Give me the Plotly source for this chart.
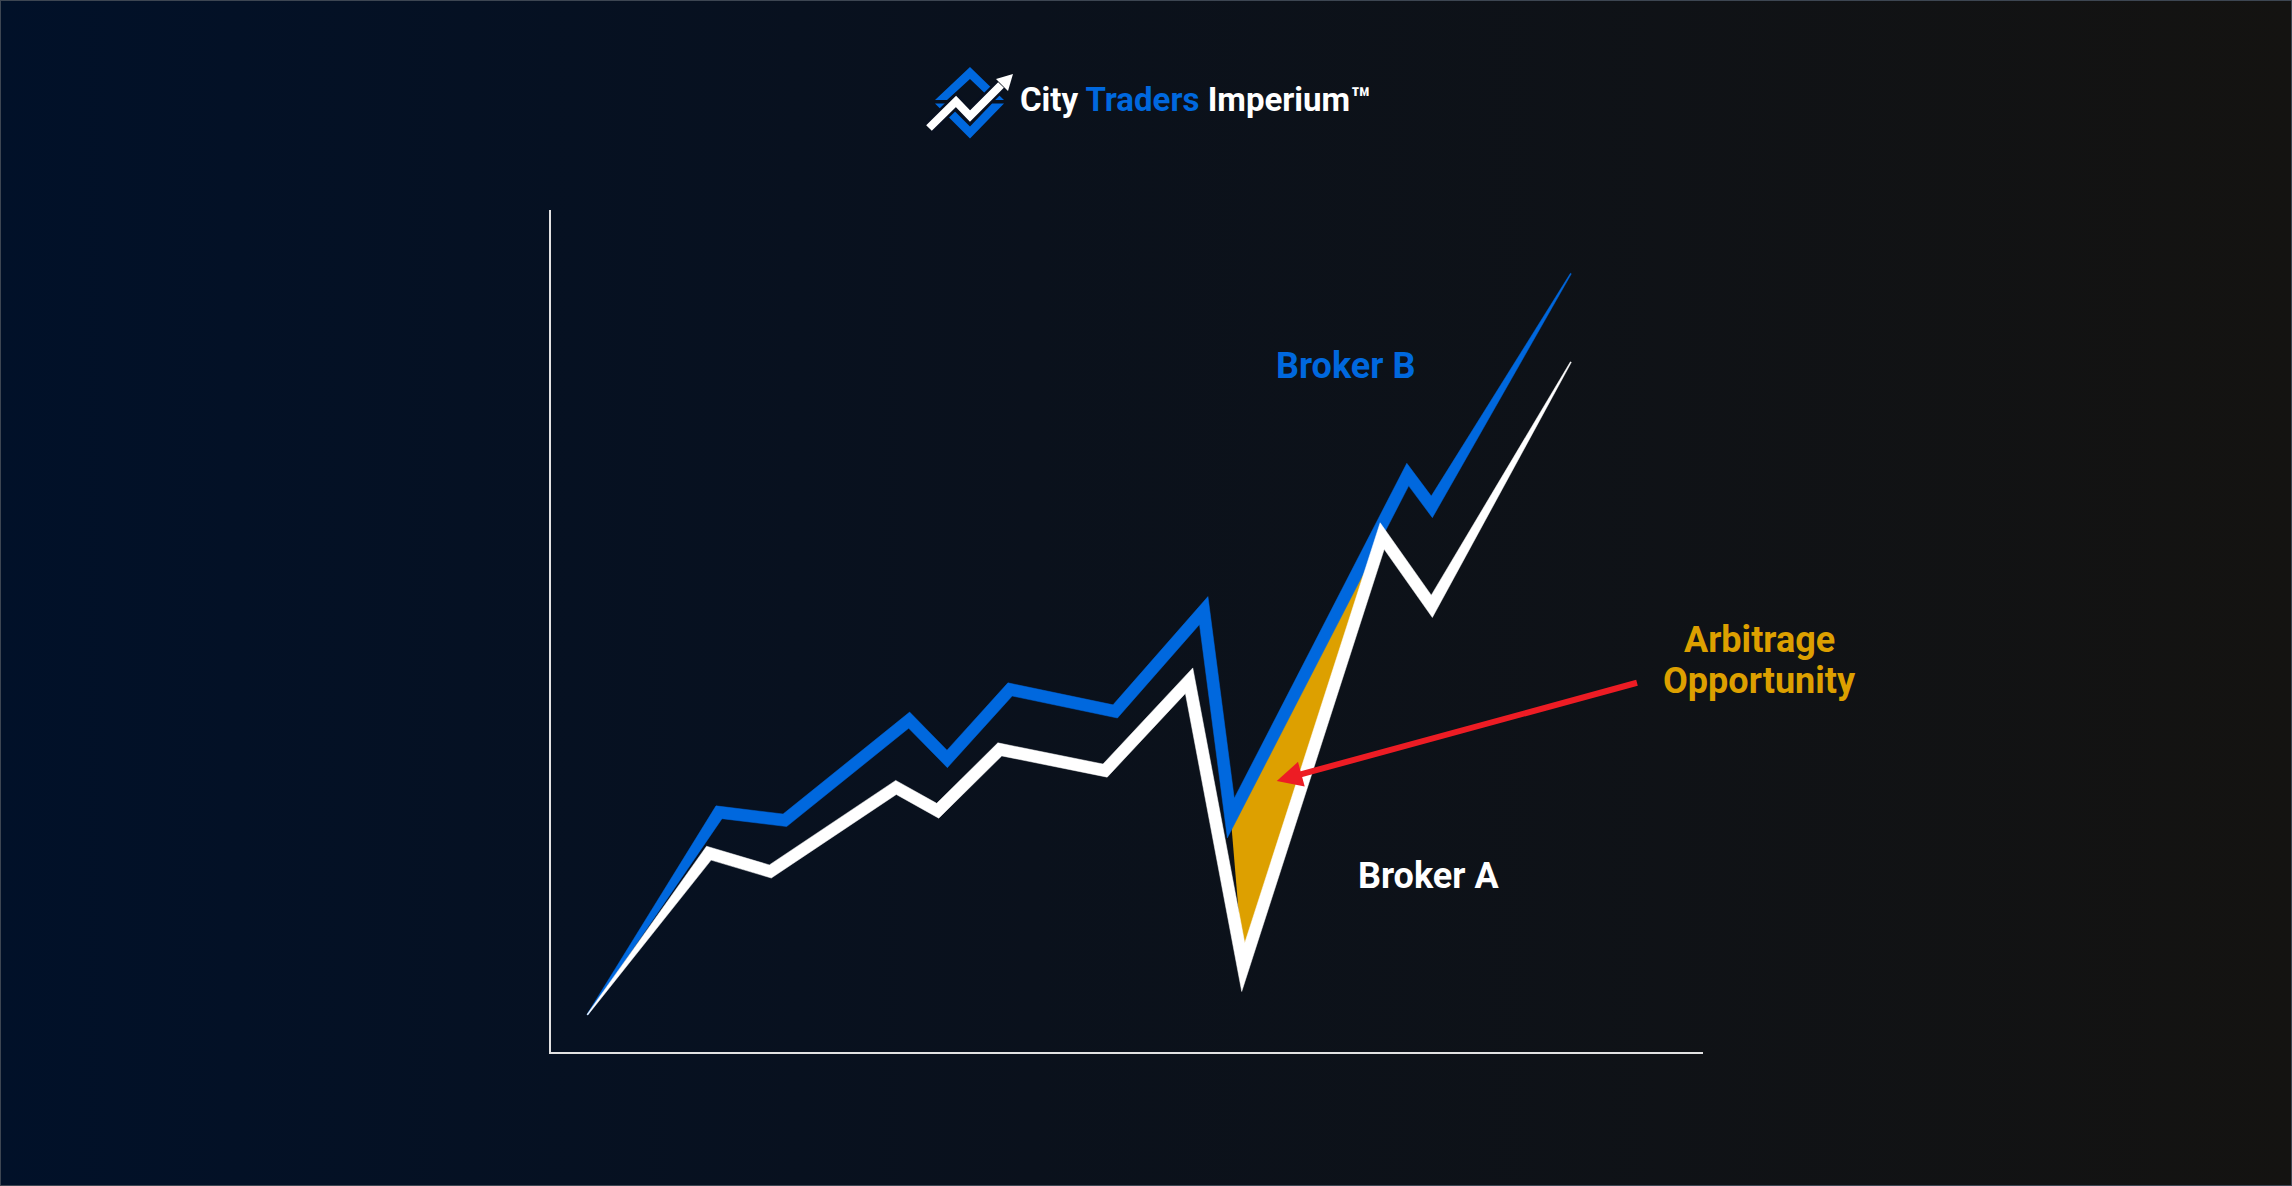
import math
import base64
import plotly.graph_objects as go

# ---------------- data ----------------
time_b = [3.16, 14.59, 20.30, 31.09, 34.39, 39.85, 48.98, 56.66, 59.01, 74.37, 76.45, 88.53]
price_b = [4.43, 28.47, 27.52, 39.41, 34.81, 43.06, 40.45, 52.43, 27.78, 68.58, 64.76, 92.45]
time_a = [3.16, 13.71, 19.04, 29.95, 33.57, 38.96, 48.10, 55.39, 60.09, 72.15, 76.45, 88.53]
price_a = [4.43, 23.61, 21.44, 31.42, 28.65, 35.94, 33.42, 44.10, 10.07, 61.28, 52.95, 81.94]
arb_idx = [8, 9]               # dip and recovery where the gap opens
arrow_tip = (63.0, 32.2)
arrow_tail = (94.4, 43.9)

label_b = "Broker B"
label_a = "Broker A"
label_arb = ["Arbitrage", "Opportunity"]
brand = ["City", "Traders", "Imperium™"]

# ---------------- style ----------------
W, H = 2292, 1186
X0, X1 = 551, 1703      # plot area pixel box
YT, YB = 210, 1052
BLUE = "#0068DE"
WHITE = "#FFFFFF"
ORANGE = "#DDA000"
RED = "#ED1C24"
STROKE = 12


def to_px(x, y):
    return X0 + x / 100 * (X1 - X0), YB - y / 100 * (YB - YT)


def from_px(px, py):
    return (px - X0) / (X1 - X0) * 100, (YB - py) / (YB - YT) * 100


def intersect(s1, s2):
    (x1, y1), (x2, y2) = s1
    (x3, y3), (x4, y4) = s2
    d = (x1 - x2) * (y3 - y4) - (y1 - y2) * (x3 - x4)
    if abs(d) < 1e-9:
        return None
    a = x1 * y2 - y1 * x2
    b = x3 * y4 - y3 * x4
    return ((a * (x3 - x4) - (x1 - x2) * b) / d, (a * (y3 - y4) - (y1 - y2) * b) / d)


def stroke_polygon(xs, ys, width):
    """Mitred, end-tapered stroke outline of a polyline (computed in pixel space)."""
    P = [to_px(x, y) for x, y in zip(xs, ys)]
    n = len(P)
    w = [1.0] + [width] * (n - 2) + [1.0]
    sl, sr = [], []
    for i in range(n - 1):
        (ax, ay), (bx, by) = P[i], P[i + 1]
        L = math.hypot(bx - ax, by - ay)
        nx, ny = -(by - ay) / L, (bx - ax) / L
        sl.append(((ax + nx * w[i] / 2, ay + ny * w[i] / 2), (bx + nx * w[i + 1] / 2, by + ny * w[i + 1] / 2)))
        sr.append(((ax - nx * w[i] / 2, ay - ny * w[i] / 2), (bx - nx * w[i + 1] / 2, by - ny * w[i + 1] / 2)))

    def side(segs):
        pts = [segs[0][0]]
        for j in range(1, len(segs)):
            p = intersect(segs[j - 1], segs[j])
            pts.append(p if p else segs[j][0])
        pts.append(segs[-1][1])
        return pts

    poly = side(sl) + side(sr)[::-1]
    poly.append(poly[0])
    dx, dy = zip(*[from_px(px, py) for px, py in poly])
    return list(dx), list(dy)


def pp(px, py):
    return px / W, 1 - py / H


def path(points, close=True):
    s = ""
    for k, (px, py) in enumerate(points):
        x, y = pp(px, py)
        s += ("M" if k == 0 else "L") + f"{x:.5f},{y:.5f} "
    return s + ("Z" if close else "")


fig = go.Figure()

# arbitrage gap
i0, i1 = arb_idx
fig.add_trace(go.Scatter(
    x=[time_b[i0], time_a[i1], time_a[i0], time_b[i0]],
    y=[price_b[i0], price_a[i1], price_a[i0], price_b[i0]],
    fill="toself", fillcolor=ORANGE, mode="lines", line=dict(width=0, color=ORANGE),
    hoverinfo="skip"))

bx, by = stroke_polygon(time_b, price_b, STROKE)
fig.add_trace(go.Scatter(x=bx, y=by, fill="toself", fillcolor=BLUE, mode="lines",
                         line=dict(width=0.5, color=BLUE), name=label_b, hoverinfo="skip"))
ax_, ay_ = stroke_polygon(time_a, price_a, STROKE)
fig.add_trace(go.Scatter(x=ax_, y=ay_, fill="toself", fillcolor=WHITE, mode="lines",
                         line=dict(width=0.5, color=WHITE), name=label_a, hoverinfo="skip"))

# background gradient
svg = (f'<svg xmlns="http://www.w3.org/2000/svg" width="{W}" height="{H}" viewBox="0 0 {W} {H}" '
       'preserveAspectRatio="none"><defs><linearGradient id="g" x1="0" y1="0" x2="1" y2="0">'
       '<stop offset="0" stop-color="#011129"/><stop offset="0.45" stop-color="#0a111c"/>'
       '<stop offset="1" stop-color="#141311"/></linearGradient></defs>'
       f'<rect x="0" y="0" width="{W}" height="{H}" fill="url(#g)"/></svg>')
bg_src = "data:image/svg+xml;base64," + base64.b64encode(svg.encode()).decode()

font = "Roboto, 'Open Sans', sans-serif"
annotations = []
x_l, y_l = pp(1345, 366)
annotations.append(dict(xref="paper", yref="paper", x=x_l, y=y_l, text=f"<b>{label_b}</b>",
                        showarrow=False, font=dict(family=font, size=36, color=BLUE),
                        xanchor="center", yanchor="middle"))
x_l, y_l = pp(1428, 876)
annotations.append(dict(xref="paper", yref="paper", x=x_l, y=y_l, text=f"<b>{label_a}</b>",
                        showarrow=False, font=dict(family=font, size=36, color=WHITE),
                        xanchor="center", yanchor="middle"))
for txt, cy in zip(label_arb, [640, 681]):
    x_l, y_l = pp(1759, cy)
    annotations.append(dict(xref="paper", yref="paper", x=x_l, y=y_l, text=f"<b>{txt}</b>",
                            showarrow=False, font=dict(family=font, size=36, color=ORANGE),
                            xanchor="center", yanchor="middle"))
# arrow
annotations.append(dict(xref="x", yref="y", x=arrow_tip[0], y=arrow_tip[1],
                        axref="x", ayref="y", ax=arrow_tail[0], ay=arrow_tail[1],
                        text="", showarrow=True, arrowhead=2, arrowsize=0.85, arrowwidth=6,
                        arrowcolor=RED, standoff=0))
# brand
x_l, y_l = pp(1018, 100)
annotations.append(dict(xref="paper", yref="paper", x=x_l, y=y_l,
                        text=f"<b>{brand[0]} <span style='color:{BLUE}'>{brand[1]}</span> {brand[2]}</b>",
                        showarrow=False, font=dict(family=font, size=33, color=WHITE),
                        xanchor="left", yanchor="middle"))

shapes = []
# logo icon
shapes.append(dict(type="path", xref="paper", yref="paper", line=dict(width=0), fillcolor=BLUE,
                   path=path([(935, 100), (970, 67), (1004, 100), (992, 100), (970, 79), (947, 100)])))
shapes.append(dict(type="path", xref="paper", yref="paper", line=dict(width=0), fillcolor=BLUE,
                   path=path([(935, 103.5), (970, 138.5), (1004, 103.5), (992, 103.5), (970, 126.5), (947, 103.5)])))
zig = [(929, 128), (956, 101.5), (970, 116), (1001, 85)]
shapes.append(dict(type="path", xref="paper", yref="paper", line=dict(width=13, color="#081020"),
                   path=path(zig, close=False)))
shapes.append(dict(type="path", xref="paper", yref="paper", line=dict(width=8, color=WHITE),
                   path=path(zig, close=False)))
shapes.append(dict(type="path", xref="paper", yref="paper", line=dict(width=0), fillcolor=WHITE,
                   path=path([(1013, 74), (996, 79), (1008, 91)])))
# frame border
shapes.append(dict(type="rect", xref="paper", yref="paper", x0=0, y0=0, x1=1, y1=1,
                   line=dict(color="#3d4652", width=2)))

fig.update_layout(
    width=W, height=H, margin=dict(l=0, r=0, t=0, b=0),
    paper_bgcolor="#0b111b", plot_bgcolor="rgba(0,0,0,0)",
    showlegend=False,
    images=[dict(source=bg_src, xref="paper", yref="paper", x=0, y=1, sizex=1, sizey=1,
                 xanchor="left", yanchor="top", sizing="stretch", layer="below")],
    xaxis=dict(domain=[X0 / W, X1 / W], range=[0, 100], showline=True, linecolor="#e2e2e2",
               linewidth=2, showgrid=False, zeroline=False, showticklabels=False, ticks="",
               fixedrange=True),
    yaxis=dict(domain=[1 - YB / H, 1 - YT / H], range=[0, 100], showline=True, linecolor="#e2e2e2",
               linewidth=2, showgrid=False, zeroline=False, showticklabels=False, ticks="",
               fixedrange=True),
    annotations=annotations,
    shapes=shapes,
)

fig.write_html("out.html", config={"displayModeBar": False},
               post_script="document.body.style.margin='0';document.body.style.padding='0';"
                           "document.body.style.overflow='hidden';document.body.style.background='#0b111b';")
